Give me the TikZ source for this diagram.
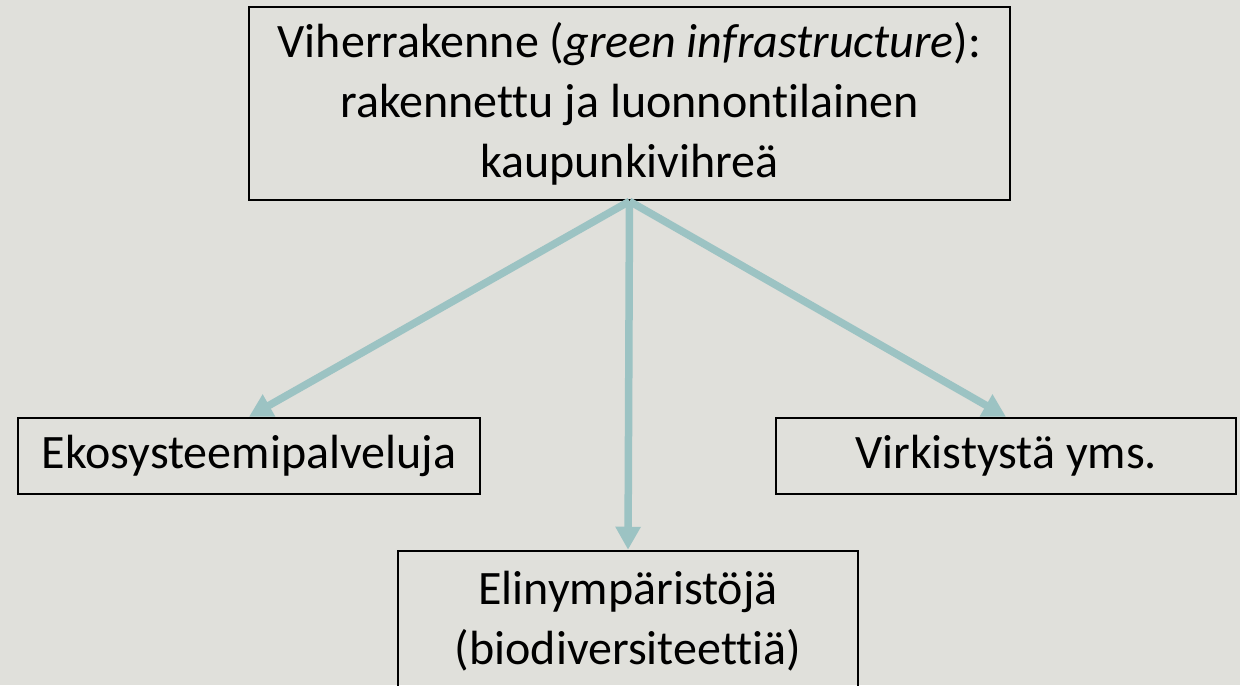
\documentclass[tikz,border=0pt]{standalone}
\usepackage{fontspec}
\setmainfont{Carlito}[RawFeature={-liga;-clig;-calt;-dlig;-rlig}]
\usetikzlibrary{arrows.meta}
\definecolor{bgc}{RGB}{224,224,219}
\definecolor{linkc}{RGB}{156,195,195}
% keeps t and i as separate glyphs
\newcommand\splitti{t\kern0pt i}
\begin{document}
\begin{tikzpicture}[x=0.5pt,y=-0.5pt,
  box/.style={draw=black,line width=1.25pt,inner sep=0pt,align=center,
    font=\fontsize{24}{30}\selectfont,text=black},
  link/.style={draw=linkc,line width=3.75pt,-{Triangle[width=12pt,length=11.5pt]}}]
\fill[bgc] (0,0) rectangle (1240,685);
\useasboundingbox (0,0) rectangle (1240,685);
% boxes
\node[box,minimum width=380.5pt,minimum height=96.5pt] (root) at (629.5,103.5)
  {Viherrakenne (\textit{green infrastructure}):\\rakennettu ja luonnon\splitti lainen\\kaupunkivihreä};
\node[box,minimum width=231pt,minimum height=38pt] (eko) at (249,456)
  {Ekosysteemipalveluja};
\node[box,minimum width=230pt,minimum height=38pt] (virk) at (1006,456)
  {Virkistystä yms.};
\node[box,minimum width=230pt,minimum height=70pt] (elin) at (628,621)
  {Elinympäristöjä\\(biodiversiteet\splitti ä)};
% connectors
\draw[link] (root.south) -- (eko.north);
\draw[link] (root.south) -- (elin.north);
\draw[link] (root.south) -- (virk.north);
\end{tikzpicture}
\end{document}
